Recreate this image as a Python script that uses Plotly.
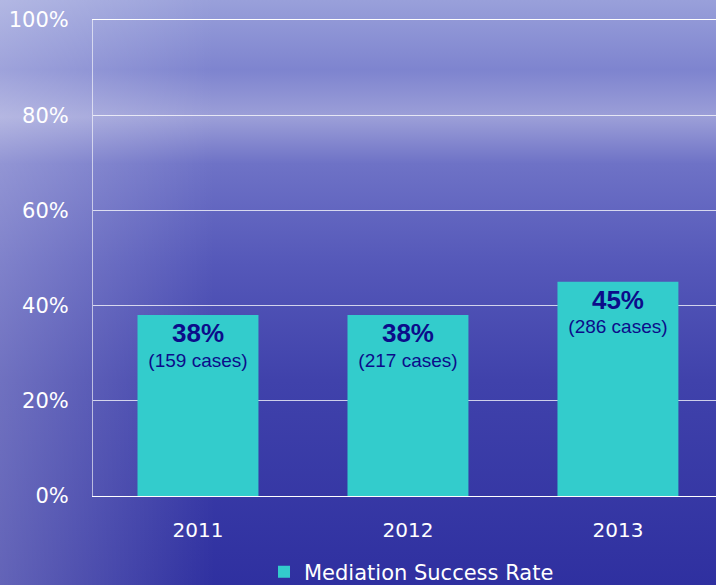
import plotly.graph_objects as go

years = ["2011", "2012", "2013"]
success_rate = [38, 38, 45]
cases = [159, 217, 286]

bar_color = "#33CCCC"
label_color = "#0C0C8A"

# soft sky-to-sea backdrop as an inline svg gradient
bg_svg = (
    "data:image/svg+xml;utf8,"
    "<svg xmlns='http://www.w3.org/2000/svg' width='716' height='585'>"
    "<defs><linearGradient id='g' x1='0' y1='0' x2='0' y2='1'>"
    "<stop offset='0' stop-color='%2399A0DA'/>"
    "<stop offset='0.12' stop-color='%237E84CF'/>"
    "<stop offset='0.2' stop-color='%239C9FD8'/>"
    "<stop offset='0.28' stop-color='%236E72C6'/>"
    "<stop offset='0.45' stop-color='%235558B9'/>"
    "<stop offset='0.65' stop-color='%234042AB'/>"
    "<stop offset='1' stop-color='%232F30A0'/>"
    "</linearGradient>"
    "<linearGradient id='h' x1='0' y1='0' x2='1' y2='0'>"
    "<stop offset='0' stop-color='white' stop-opacity='0.25'/>"
    "<stop offset='0.3' stop-color='white' stop-opacity='0'/>"
    "</linearGradient></defs>"
    "<rect width='716' height='585' fill='url(%23g)'/>"
    "<rect width='716' height='585' fill='url(%23h)'/>"
    "</svg>"
)

labels = [f"<span style='font-size:26px'><b>{r}%</b></span><br>({c} cases)"
          for r, c in zip(success_rate, cases)]

fig = go.Figure(
    go.Bar(
        x=years,
        y=success_rate,
        name="Mediation Success Rate",
        marker={"color": bar_color, "line": {"width": 0}},
        width=0.576,
        text=labels,
        textposition="inside",
        insidetextanchor="end",
        textangle=0,
        constraintext="none",
        textfont={"family": "Liberation Sans, Arial", "size": 19, "color": label_color},
        hoverinfo="x+y",
    )
)

tick_font = {"family": "DejaVu Sans, Verdana", "size": 20, "color": "white"}

fig.update_layout(
    width=716, height=585,
    margin={"l": 93, "r": 0, "t": 20, "b": 89},
    paper_bgcolor="#3F42AA",
    plot_bgcolor="rgba(0,0,0,0)",
    showlegend=True,
    legend={
        "orientation": "h",
        "xref": "container", "yref": "container",
        "x": 264 / 716, "xanchor": "left",
        "y": 13 / 585, "yanchor": "middle",
        "font": {"family": "DejaVu Sans, Verdana", "size": 21, "color": "white"},
        "bgcolor": "rgba(0,0,0,0)",
    },
    xaxis={
        "range": [-0.5, 2.467],
        "tickfont": tick_font,
        "showgrid": False,
        "showline": True, "linecolor": "white", "linewidth": 1, "mirror": True,
        "ticks": "",
        "ticklabelstandoff": 16,
    },
    yaxis={
        "range": [0, 100],
        "dtick": 20,
        "ticksuffix": "%",
        "tickfont": {**tick_font, "size": 21},
        "showgrid": True, "gridcolor": "rgba(255,255,255,0.75)", "gridwidth": 1,
        "showline": True, "linecolor": "rgba(255,255,255,0.6)", "linewidth": 1,
        "zeroline": False,
        "ticks": "",
        "ticklabelstandoff": 19,
    },
    images=[{
        "source": bg_svg,
        "xref": "paper", "yref": "paper",
        "x": -93 / 623, "y": 1 + 20 / 476,
        "sizex": 716 / 623, "sizey": 585 / 476,
        "sizing": "stretch", "layer": "below", "xanchor": "left", "yanchor": "top",
    }],
)

fig.write_html(
    "out.html",
    config={"displayModeBar": False},
    post_script="document.body.style.margin = '0';",
)
